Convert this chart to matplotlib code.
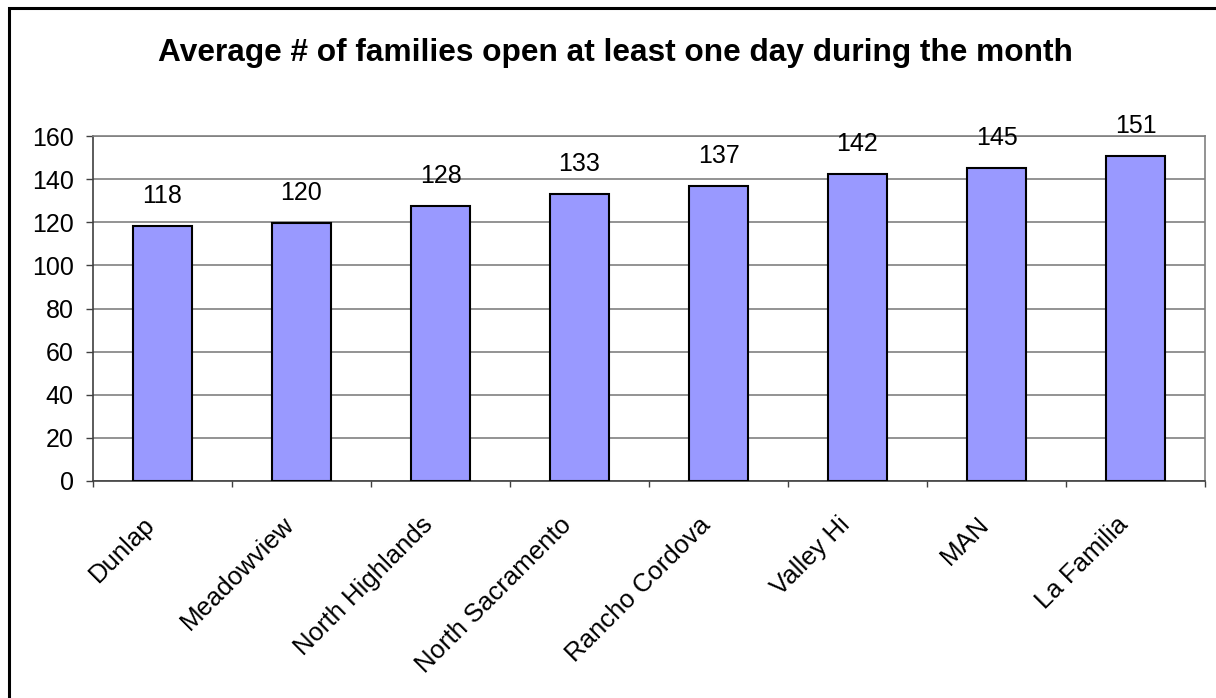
import matplotlib
matplotlib.use("Agg")
import matplotlib.pyplot as plt
from matplotlib.patches import Rectangle
from matplotlib.transforms import ScaledTranslation

# chart data
centers = ["Dunlap", "Meadowview", "North Highlands", "North Sacramento",
           "Rancho Cordova", "Valley Hi", "MAN", "La Familia"]
avg_families = [118.3, 119.6, 127.6, 133.2, 137.0, 142.4, 145.3, 150.8]
y_ticks = [0, 20, 40, 60, 80, 100, 120, 140, 160]
title = "Average # of families open at least one day during the month"

plt.rcParams['font.family'] = ['Liberation Sans', 'DejaVu Sans']

fig = plt.figure(figsize=(12.16, 6.98), dpi=100)
W, H = 1216, 698
ax = fig.add_axes([93 / W, 1 - 481 / H, (1205 - 93) / W, (481 - 136) / H])

x = list(range(len(centers)))
ax.bar(x, avg_families, width=0.424, color='#9999FF', edgecolor='black',
       linewidth=1.5, zorder=3)

for xi, v in zip(x, avg_families):
    ax.annotate(f"{v:.0f}", (xi, v), xytext=(0, 13), textcoords='offset points',
                ha='center', va='bottom', fontsize=18)

ax.set_xlim(-0.5, len(centers) - 0.5)
ax.set_ylim(0, 160)
ax.set_yticks(y_ticks)
ax.tick_params(axis='y', labelsize=18, length=5, width=1, color='#404040', pad=9)
ax.yaxis.grid(True, color='#808080', linewidth=1.2, zorder=0)

# x ticks at category boundaries, labels at centers
ax.set_xticks([i - 0.5 for i in range(len(centers) + 1)])
ax.set_xticklabels([])
ax.tick_params(axis='x', length=4.5, width=1, color='#404040')
ax.set_xticks(x, minor=True)
ax.set_xticklabels(centers, minor=True, rotation=45, ha='right',
                   rotation_mode='anchor', fontsize=18.5)
ax.tick_params(axis='x', which='minor', length=0, pad=14)
shift = ScaledTranslation(-0.20, -0.12, fig.dpi_scale_trans)
for lbl in ax.get_xticklabels(minor=True):
    lbl.set_transform(lbl.get_transform() + shift)

for side in ['top', 'right']:
    ax.spines[side].set_color('#808080')
    ax.spines[side].set_linewidth(1.2)
for side in ['left', 'bottom']:
    ax.spines[side].set_color('#404040')
    ax.spines[side].set_linewidth(1.2)

fig.text(615 / W, 1 - 53 / H, title, ha='center', va='center',
         fontsize=22.8, fontweight='bold')

# outer chart border (right/bottom edges cut off in the original)
fig.patches.append(Rectangle((9 / W, -0.1), 1.2, (1 - 8 / H) + 0.1,
                             transform=fig.transFigure, fill=False,
                             edgecolor='black', linewidth=2.2))

fig.savefig("out.png", dpi=100)
